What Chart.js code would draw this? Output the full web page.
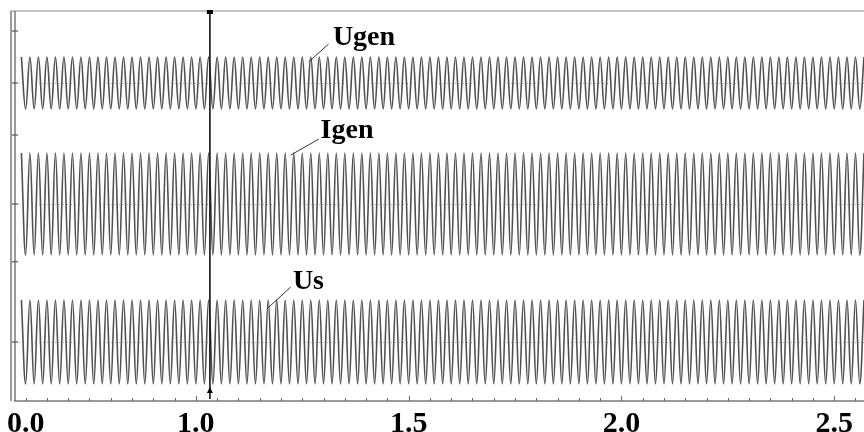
<!DOCTYPE html>
<html>
<head>
<meta charset="utf-8">
<script src="https://cdn.jsdelivr.net/npm/chart.js@4.4.1/dist/chart.umd.min.js"></script>
<style>
  body { margin: 0; background: #fff; }
  #chart { display: block; }
</style>
</head>
<body>
<canvas id="chart" width="864" height="432"></canvas>
<script>
// sample times (s) of each crest / trough (50 Hz)
const times = [
  0.59, 0.60, 0.61, 0.62, 0.63, 0.64, 0.65, 0.66, 0.67, 0.68,
  0.69, 0.70, 0.71, 0.72, 0.73, 0.74, 0.75, 0.76, 0.77, 0.78,
  0.79, 0.80, 0.81, 0.82, 0.83, 0.84, 0.85, 0.86, 0.87, 0.88,
  0.89, 0.90, 0.91, 0.92, 0.93, 0.94, 0.95, 0.96, 0.97, 0.98,
  0.99, 1.00, 1.01, 1.02, 1.03, 1.04, 1.05, 1.06, 1.07, 1.08,
  1.09, 1.10, 1.11, 1.12, 1.13, 1.14, 1.15, 1.16, 1.17, 1.18,
  1.19, 1.20, 1.21, 1.22, 1.23, 1.24, 1.25, 1.26, 1.27, 1.28,
  1.29, 1.30, 1.31, 1.32, 1.33, 1.34, 1.35, 1.36, 1.37, 1.38,
  1.39, 1.40, 1.41, 1.42, 1.43, 1.44, 1.45, 1.46, 1.47, 1.48,
  1.49, 1.50, 1.51, 1.52, 1.53, 1.54, 1.55, 1.56, 1.57, 1.58,
  1.59, 1.60, 1.61, 1.62, 1.63, 1.64, 1.65, 1.66, 1.67, 1.68,
  1.69, 1.70, 1.71, 1.72, 1.73, 1.74, 1.75, 1.76, 1.77, 1.78,
  1.79, 1.80, 1.81, 1.82, 1.83, 1.84, 1.85, 1.86, 1.87, 1.88,
  1.89, 1.90, 1.91, 1.92, 1.93, 1.94, 1.95, 1.96, 1.97, 1.98,
  1.99, 2.00, 2.01, 2.02, 2.03, 2.04, 2.05, 2.06, 2.07, 2.08,
  2.09, 2.10, 2.11, 2.12, 2.13, 2.14, 2.15, 2.16, 2.17, 2.18,
  2.19, 2.20, 2.21, 2.22, 2.23, 2.24, 2.25, 2.26, 2.27, 2.28,
  2.29, 2.30, 2.31, 2.32, 2.33, 2.34, 2.35, 2.36, 2.37, 2.38,
  2.39, 2.40, 2.41, 2.42, 2.43, 2.44, 2.45, 2.46, 2.47, 2.48,
  2.49, 2.50, 2.51, 2.52, 2.53, 2.54, 2.55, 2.56, 2.57
];

// generator voltage (pu)
const ugen = [
  1, -1, 1, -1, 1, -1, 1, -1, 1, -1,
  1, -1, 1, -1, 1, -1, 1, -1, 1, -1,
  1, -1, 1, -1, 1, -1, 1, -1, 1, -1,
  1, -1, 1, -1, 1, -1, 1, -1, 1, -1,
  1, -1, 1, -1, 1, -1, 1, -1, 1, -1,
  1, -1, 1, -1, 1, -1, 1, -1, 1, -1,
  1, -1, 1, -1, 1, -1, 1, -1, 1, -1,
  1, -1, 1, -1, 1, -1, 1, -1, 1, -1,
  1, -1, 1, -1, 1, -1, 1, -1, 1, -1,
  1, -1, 1, -1, 1, -1, 1, -1, 1, -1,
  1, -1, 1, -1, 1, -1, 1, -1, 1, -1,
  1, -1, 1, -1, 1, -1, 1, -1, 1, -1,
  1, -1, 1, -1, 1, -1, 1, -1, 1, -1,
  1, -1, 1, -1, 1, -1, 1, -1, 1, -1,
  1, -1, 1, -1, 1, -1, 1, -1, 1, -1,
  1, -1, 1, -1, 1, -1, 1, -1, 1, -1,
  1, -1, 1, -1, 1, -1, 1, -1, 1, -1,
  1, -1, 1, -1, 1, -1, 1, -1, 1, -1,
  1, -1, 1, -1, 1, -1, 1, -1, 1, -1,
  1, -1, 1, -1, 1, -1, 1, -1, 1
];

// generator current (pu)
const igen = [
  1.5, -1.5, 1.5, -1.5, 1.5, -1.5, 1.5, -1.5, 1.5, -1.5,
  1.5, -1.5, 1.5, -1.5, 1.5, -1.5, 1.5, -1.5, 1.5, -1.5,
  1.5, -1.5, 1.5, -1.5, 1.5, -1.5, 1.5, -1.5, 1.5, -1.5,
  1.5, -1.5, 1.5, -1.5, 1.5, -1.5, 1.5, -1.5, 1.5, -1.5,
  1.5, -1.5, 1.5, -1.5, 1.5, -1.5, 1.5, -1.5, 1.5, -1.5,
  1.5, -1.5, 1.5, -1.5, 1.5, -1.5, 1.5, -1.5, 1.5, -1.5,
  1.5, -1.5, 1.5, -1.5, 1.5, -1.5, 1.5, -1.5, 1.5, -1.5,
  1.5, -1.5, 1.5, -1.5, 1.5, -1.5, 1.5, -1.5, 1.5, -1.5,
  1.5, -1.5, 1.5, -1.5, 1.5, -1.5, 1.5, -1.5, 1.5, -1.5,
  1.5, -1.5, 1.5, -1.5, 1.5, -1.5, 1.5, -1.5, 1.5, -1.5,
  1.5, -1.5, 1.5, -1.5, 1.5, -1.5, 1.5, -1.5, 1.5, -1.5,
  1.5, -1.5, 1.5, -1.5, 1.5, -1.5, 1.5, -1.5, 1.5, -1.5,
  1.5, -1.5, 1.5, -1.5, 1.5, -1.5, 1.5, -1.5, 1.5, -1.5,
  1.5, -1.5, 1.5, -1.5, 1.5, -1.5, 1.5, -1.5, 1.5, -1.5,
  1.5, -1.5, 1.5, -1.5, 1.5, -1.5, 1.5, -1.5, 1.5, -1.5,
  1.5, -1.5, 1.5, -1.5, 1.5, -1.5, 1.5, -1.5, 1.5, -1.5,
  1.5, -1.5, 1.5, -1.5, 1.5, -1.5, 1.5, -1.5, 1.5, -1.5,
  1.5, -1.5, 1.5, -1.5, 1.5, -1.5, 1.5, -1.5, 1.5, -1.5,
  1.5, -1.5, 1.5, -1.5, 1.5, -1.5, 1.5, -1.5, 1.5, -1.5,
  1.5, -1.5, 1.5, -1.5, 1.5, -1.5, 1.5, -1.5, 1.5
];

// grid voltage (pu)
const us = [
  1.2, -1.2, 1.2, -1.2, 1.2, -1.2, 1.2, -1.2, 1.2, -1.2,
  1.2, -1.2, 1.2, -1.2, 1.2, -1.2, 1.2, -1.2, 1.2, -1.2,
  1.2, -1.2, 1.2, -1.2, 1.2, -1.2, 1.2, -1.2, 1.2, -1.2,
  1.2, -1.2, 1.2, -1.2, 1.2, -1.2, 1.2, -1.2, 1.2, -1.2,
  1.2, -1.2, 1.2, -1.2, 1.2, -1.2, 1.2, -1.2, 1.2, -1.2,
  1.2, -1.2, 1.2, -1.2, 1.2, -1.2, 1.2, -1.2, 1.2, -1.2,
  1.2, -1.2, 1.2, -1.2, 1.2, -1.2, 1.2, -1.2, 1.2, -1.2,
  1.2, -1.2, 1.2, -1.2, 1.2, -1.2, 1.2, -1.2, 1.2, -1.2,
  1.2, -1.2, 1.2, -1.2, 1.2, -1.2, 1.2, -1.2, 1.2, -1.2,
  1.2, -1.2, 1.2, -1.2, 1.2, -1.2, 1.2, -1.2, 1.2, -1.2,
  1.2, -1.2, 1.2, -1.2, 1.2, -1.2, 1.2, -1.2, 1.2, -1.2,
  1.2, -1.2, 1.2, -1.2, 1.2, -1.2, 1.2, -1.2, 1.2, -1.2,
  1.2, -1.2, 1.2, -1.2, 1.2, -1.2, 1.2, -1.2, 1.2, -1.2,
  1.2, -1.2, 1.2, -1.2, 1.2, -1.2, 1.2, -1.2, 1.2, -1.2,
  1.2, -1.2, 1.2, -1.2, 1.2, -1.2, 1.2, -1.2, 1.2, -1.2,
  1.2, -1.2, 1.2, -1.2, 1.2, -1.2, 1.2, -1.2, 1.2, -1.2,
  1.2, -1.2, 1.2, -1.2, 1.2, -1.2, 1.2, -1.2, 1.2, -1.2,
  1.2, -1.2, 1.2, -1.2, 1.2, -1.2, 1.2, -1.2, 1.2, -1.2,
  1.2, -1.2, 1.2, -1.2, 1.2, -1.2, 1.2, -1.2, 1.2, -1.2,
  1.2, -1.2, 1.2, -1.2, 1.2, -1.2, 1.2, -1.2, 1.2
];

// x axis tick labels (first one is printed as 0.0 on the original)
const tickValues = [0.6, 1.0, 1.5, 2.0, 2.5];
const tickLabels = ['0.0', '1.0', '1.5', '2.0', '2.5'];

// cursor time and the little tick marks on the left edge of each band
const cursorTime = 1.033;
const bandTicks = { yU: [2, 0, -2], yI: [0, -1.7], yS: [0] };

// trace names with their leader lines (time, value on that trace's axis)
const traceLabels = [
  { text: 'Ugen', axis: 'yU', at: [1.322, 1.46], from: [1.265, 0.81], to: [1.312, 1.5] },
  { text: 'Igen', axis: 'yI', at: [1.293, 1.94], from: [1.223, 1.44], to: [1.289, 1.91] },
  { text: 'Us',   axis: 'yS', at: [1.228, 1.51], from: [1.169, 0.97], to: [1.223, 1.57] }
];

function toPoints(values) {
  return values.map((v, i) => ({ x: times[i], y: v }));
}

const lineStyle = {
  borderColor: '#505050',
  borderWidth: 1.6,
  pointRadius: 0,
  tension: 0.4,
  fill: false
};

const decor = {
  id: 'decor',
  beforeDatasetsDraw(chart) {
    const { ctx, chartArea: a, scales } = chart;
    ctx.save();
    // dotted zero lines of each band
    ctx.strokeStyle = '#b5b5b5';
    ctx.lineWidth = 1;
    ctx.setLineDash([1, 3]);
    ['yU', 'yI', 'yS'].forEach(id => {
      const y = Math.round(scales[id].getPixelForValue(0)) + 0.5;
      ctx.beginPath();
      ctx.moveTo(a.left, y);
      ctx.lineTo(a.right, y);
      ctx.stroke();
    });
    ctx.restore();
  },
  afterDatasetsDraw(chart) {
    const { ctx, chartArea: a, scales } = chart;
    const x = scales.x;
    ctx.save();

    // top border
    ctx.strokeStyle = '#c4c4c4';
    ctx.lineWidth = 2;
    ctx.beginPath();
    ctx.moveTo(a.left - 4, a.top);
    ctx.lineTo(a.right, a.top);
    ctx.stroke();

    // double left border
    ctx.strokeStyle = '#7a7a7a';
    ctx.lineWidth = 1.5;
    [a.left - 4, a.left].forEach(px => {
      ctx.beginPath();
      ctx.moveTo(px, a.top);
      ctx.lineTo(px, a.bottom);
      ctx.stroke();
    });

    // left band ticks
    ctx.strokeStyle = '#555';
    ctx.lineWidth = 1.2;
    Object.keys(bandTicks).forEach(id => {
      bandTicks[id].forEach(v => {
        const y = scales[id].getPixelForValue(v);
        ctx.beginPath();
        ctx.moveTo(a.left - 3, y);
        ctx.lineTo(a.left + 3, y);
        ctx.stroke();
      });
    });

    // minor ticks along the bottom every 0.05 s
    ctx.strokeStyle = '#666';
    ctx.lineWidth = 1;
    for (let t = 0.6; t <= x.max + 1e-9; t += 0.05) {
      const px = Math.round(x.getPixelForValue(t)) + 0.5;
      const major = Math.abs(t * 2 - Math.round(t * 2)) < 1e-6;
      ctx.beginPath();
      ctx.moveTo(px, a.bottom);
      ctx.lineTo(px, a.bottom - (major ? 5 : 3));
      ctx.stroke();
    }

    // cursor line
    const cx = x.getPixelForValue(cursorTime);
    ctx.strokeStyle = '#111';
    ctx.lineWidth = 1.6;
    ctx.beginPath();
    ctx.moveTo(cx, a.top);
    ctx.lineTo(cx, a.bottom - 2);
    ctx.stroke();
    ctx.fillStyle = '#000';
    ctx.fillRect(cx - 3, a.top - 1, 6, 4);
    ctx.beginPath();
    ctx.moveTo(cx, a.bottom - 14);
    ctx.lineTo(cx - 3, a.bottom - 8);
    ctx.lineTo(cx + 3, a.bottom - 8);
    ctx.closePath();
    ctx.fill();

    // trace names
    ctx.font = 'bold 28px "Liberation Serif", "Times New Roman", serif';
    ctx.textBaseline = 'alphabetic';
    ctx.textAlign = 'left';
    traceLabels.forEach(l => {
      const ys = scales[l.axis];
      ctx.strokeStyle = '#333';
      ctx.lineWidth = 1;
      ctx.beginPath();
      ctx.moveTo(x.getPixelForValue(l.from[0]), ys.getPixelForValue(l.from[1]));
      ctx.lineTo(x.getPixelForValue(l.to[0]), ys.getPixelForValue(l.to[1]));
      ctx.stroke();
      ctx.fillStyle = '#000';
      ctx.fillText(l.text, x.getPixelForValue(l.at[0]), ys.getPixelForValue(l.at[1]));
    });

    ctx.restore();
  }
};

const ctx = document.getElementById('chart').getContext('2d');

const myChart = new Chart(ctx, {
  type: 'line',
  data: {
    datasets: [
      Object.assign({ label: 'Ugen', data: toPoints(ugen), yAxisID: 'yU' }, lineStyle),
      Object.assign({ label: 'Igen', data: toPoints(igen), yAxisID: 'yI' }, lineStyle),
      Object.assign({ label: 'Us', data: toPoints(us), yAxisID: 'yS' }, lineStyle)
    ]
  },
  options: {
    responsive: false,
    animation: false,
    layout: { padding: { left: 15, top: 11, right: 0, bottom: 0 } },
    plugins: {
      legend: { display: false },
      tooltip: { enabled: false }
    },
    scales: {
      x: {
        type: 'linear',
        min: 0.575,
        max: 2.57,
        afterBuildTicks: s => { s.ticks = tickValues.map(v => ({ value: v })); },
        afterFit: s => { s.height = 31; },
        grid: { drawOnChartArea: false, drawTicks: false },
        border: { display: true, color: '#9a9a9a', width: 2 },
        ticks: {
          autoSkip: false,
          maxRotation: 0,
          padding: 5,
          color: '#000',
          font: { family: '"Liberation Serif", "Times New Roman", serif', size: 30, weight: 'bold' },
          callback: (v, i) => tickLabels[i]
        }
      },
      yU: { type: 'linear', display: false, min: -12.23, max: 2.769 },
      yI: { type: 'linear', display: false, min: -5.794, max: 5.676 },
      yS: { type: 'linear', display: false, min: -1.686, max: 9.457 }
    }
  },
  plugins: [decor]
});
</script>
</body>
</html>
